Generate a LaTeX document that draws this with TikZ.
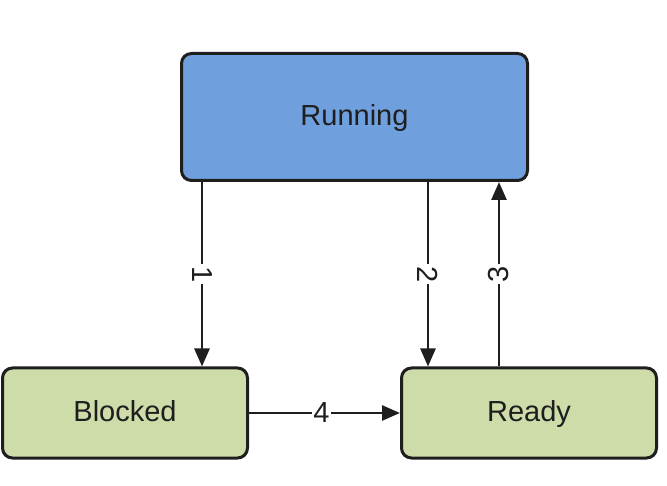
\documentclass[tikz,border=0pt]{standalone}
\usepackage{fontspec}
\setmainfont{Liberation Sans}
\usetikzlibrary{arrows.meta}
\definecolor{runblue}{HTML}{6F9FDC}
\definecolor{stategreen}{HTML}{CDDCA8}
\definecolor{edge}{HTML}{1E1E1E}
\begin{document}
\begin{tikzpicture}[x=1pt,y=-1pt,
  statebox/.style={draw=edge, line width=3pt, rounded corners=10pt,
    font=\fontsize{29}{33}\selectfont, text=edge, inner sep=0pt,
    text height=21pt, text depth=4pt},
  arr/.style={draw=edge, line width=2.7pt, -{Triangle[length=18pt,width=15pt]}},
  num/.style={fill=white, inner sep=2pt, text=edge, font=\fontsize{29}{33}\selectfont}]
  \useasboundingbox (0,0) rectangle (667,486);
  % states
  \node[statebox, fill=runblue, minimum width=346pt, minimum height=127pt]
    (run) at (354.5,117) {Running};
  \node[statebox, fill=stategreen, minimum width=245pt, minimum height=90pt]
    (blk) at (125,413) {Blocked};
  \node[statebox, fill=stategreen, minimum width=255pt, minimum height=90pt]
    (rdy) at (529,413) {Ready};
  % columns of the vertical transitions
  \coordinate (c1) at (202,0);
  \coordinate (c2) at (428,0);
  \coordinate (c3) at (499,0);
  % transitions
  \draw[arr] (c1 |- run.south) -- node[num, pos=0.5, rotate=-90] {1} (c1 |- blk.north);
  \draw[arr] (c2 |- run.south) -- node[num, pos=0.5, rotate=-90] {2} (c2 |- rdy.north);
  \draw[arr] (c3 |- rdy.north) -- node[num, pos=0.5, rotate=90] {3} (c3 |- run.south);
  \draw[arr] (blk.east) -- node[num, pos=0.48, inner xsep=1pt] {4} (rdy.west);
\end{tikzpicture}
\end{document}
